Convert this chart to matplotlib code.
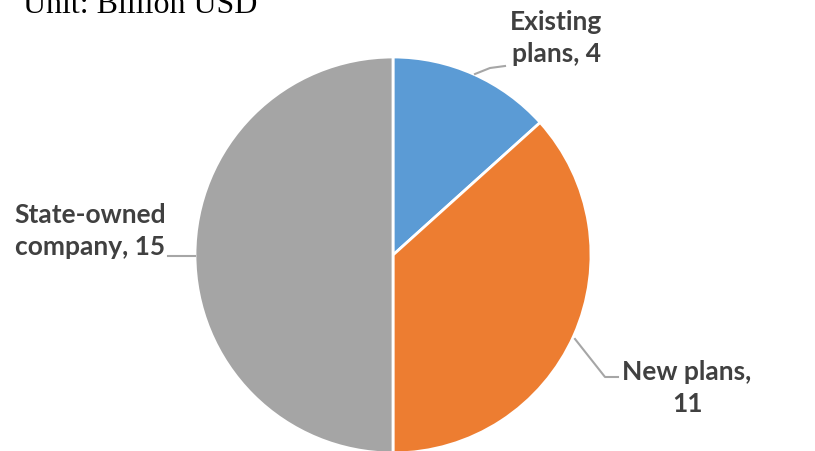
import matplotlib.pyplot as plt

labels = ['Existing\nplans, 4', 'New plans,\n11', 'State-owned\ncompany, 15']
values = [4, 11, 15]
colors = ['#5B9BD5', '#ED7D31', '#A5A5A5']

W, H = 815, 452
fig = plt.figure(figsize=(W / 100, H / 100), dpi=100)
ax = fig.add_axes([0, 0, 1, 1])

cx, cy, r = 393, H - 256, 198
ax.pie(values, colors=colors, startangle=90, counterclock=False,
       center=(cx, cy), radius=r, frame=True,
       wedgeprops=dict(edgecolor='white', linewidth=2))
ax.set_xlim(0, W)
ax.set_ylim(0, H)
ax.axis('off')

lc = '#A6A6A6'
# leader lines
ax.plot([475, 490, 505], [H - 75, H - 69, H - 67], color=lc, lw=1.5)
ax.plot([168, 195], [H - 257, H - 257], color=lc, lw=1.5)
ax.plot([575, 605, 618], [H - 340, H - 378, H - 378], color=lc, lw=1.5)

fnt = dict(family='Lato', weight='bold', color='#404040', fontsize=19,
           linespacing=1.4)
ax.text(556, H - 38, labels[0], ha='center', va='center', **fnt)
ax.text(687, H - 388, labels[1], ha='center', va='center', **fnt)
ax.text(90, H - 231, labels[2], ha='center', va='center', **fnt)

fig.text(23 / W, 1 - 13 / H, 'Unit: Billion USD', family='Liberation Serif',
         fontsize=23, color='black', ha='left', va='baseline')

fig.savefig('out.png', dpi=100)
